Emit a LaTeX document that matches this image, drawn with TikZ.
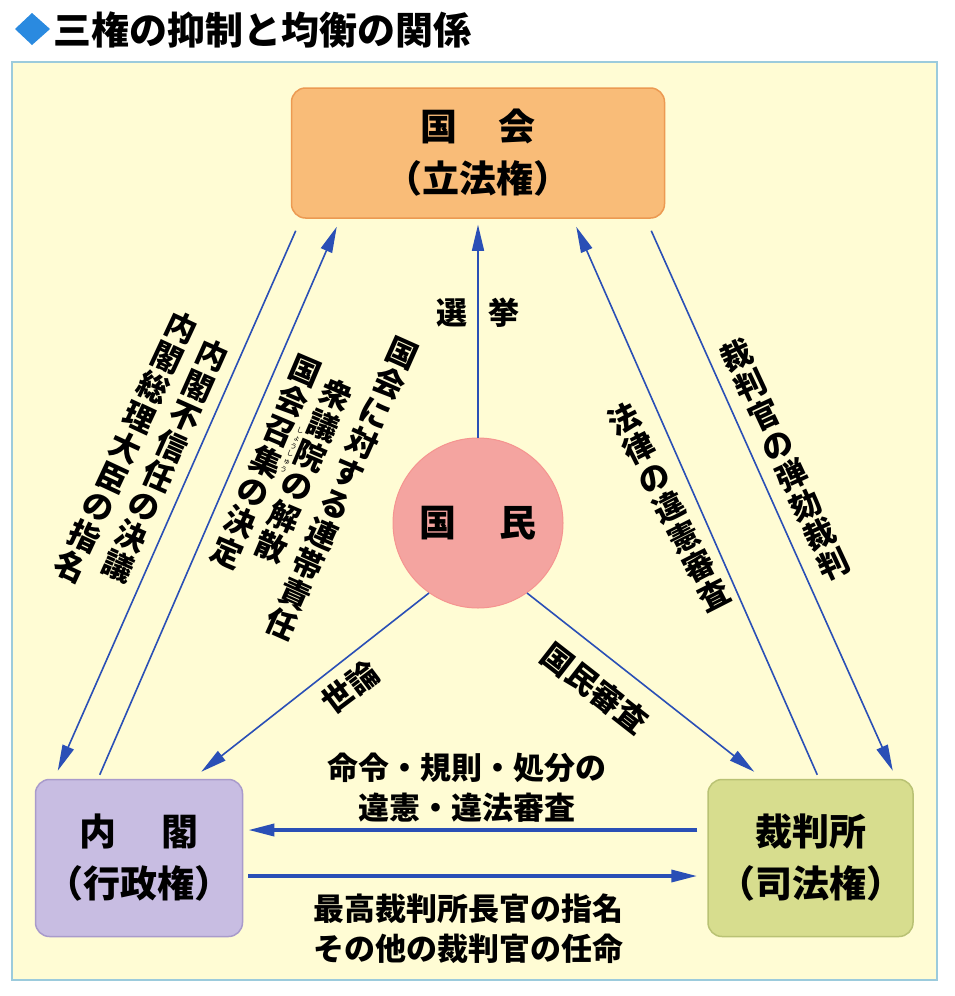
\documentclass[tikz,border=0pt]{standalone}
\usepackage{fontspec}
\setmainfont{Noto Sans CJK JP}
\usetikzlibrary{arrows.meta}

\definecolor{panelfill}{HTML}{FFFCD4}
\definecolor{paneldraw}{HTML}{9CCBDC}
\definecolor{kokkaifill}{HTML}{F9BC78}
\definecolor{kokkaidraw}{HTML}{EC9A52}
\definecolor{kokuminfill}{HTML}{F4A4A0}
\definecolor{naikakufill}{HTML}{C8BDE2}
\definecolor{naikakudraw}{HTML}{A99BCB}
\definecolor{saibanfill}{HTML}{D7DD8E}
\definecolor{saibandraw}{HTML}{B9C274}
\definecolor{arrblue}{HTML}{2A4FB6}
\definecolor{markblue}{HTML}{2A8AE0}

\begin{document}
\begin{tikzpicture}[x=1pt, y=-1pt,
    organ/.style={rounded corners=14pt, line width=1.5pt, align=center,
                  font=\bfseries\fontsize{37}{52}\selectfont},
    arr/.style={draw=arrblue, line width=1.6pt,
                -{Triangle[length=26pt,width=12pt]}},
    harr/.style={arr, line width=3.5pt},
    lbl/.style={align=center, inner sep=0pt,
                font=\bfseries\fontsize{31}{40}\selectfont},
    tate/.style={align=center, inner sep=0pt,
                 font=\bfseries\fontsize{31}{33}\selectfont}]

  \useasboundingbox (0,0) rectangle (954,996);
  \fill[white] (0,0) rectangle (954,996);

  \fill[markblue] (32,13) -- (50,29) -- (32,45) -- (15,29) -- cycle;
  \node[anchor=west, inner sep=0pt, font=\bfseries\fontsize{38}{38}\selectfont]
       (title) at (53,30) {三権の抑制と均衡の関係};

  \draw[paneldraw, fill=panelfill, line width=2.5pt] (12,62) rectangle (937,980);

  \node[organ, fill=kokkaifill, draw=kokkaidraw,
        minimum width=373pt, minimum height=130pt]
       (kokkai)    at (478,153)   {国\hspace{41pt}会\\（立法権）};
  \node[organ, fill=naikakufill, draw=naikakudraw,
        minimum width=207pt, minimum height=157pt]
       (naikaku)   at (139,858)   {内\hspace{45pt}閣\\（行政権）};
  \node[organ, fill=saibanfill, draw=saibandraw,
        minimum width=205pt, minimum height=157pt]
       (saibansho) at (810.5,858) {裁判所\\（司法権）};
  \node[circle, fill=kokuminfill, draw=kokuminfill!90!red, line width=1pt,
        minimum size=170pt, inner sep=0pt,
        font=\bfseries\fontsize{37}{52}\selectfont]
       (kokumin)   at (478,523)   {国\hspace{43pt}民};

  \draw[arr] ([shift={(5,12)}]kokkai.south west)
          -- ([shift={(23,-8)}]naikaku.north west);
  \draw[arr] ([shift={(65,-4)}]naikaku.north west)
          -- ([shift={(46,8)}]kokkai.south west);
  \draw[arr, shorten >=6pt] (kokumin.north)
          -- (kokkai.south);
  \draw[arr] ([shift={(110,-4)}]saibansho.north west)
          -- ([shift={(-89,8)}]kokkai.south east);
  \draw[arr] ([shift={(-14,12)}]kokkai.south east)
          -- ([shift={(-21,-8)}]saibansho.north east);
  \draw[arr] (kokumin.-125)
          -- ([shift={(-42,-7)}]naikaku.north east);
  \draw[arr] (kokumin.-55)
          -- ([shift={(47,-7)}]saibansho.north west);
  \draw[harr] ([shift={(-10,-28)}]saibansho.west)
           -- ([shift={(5,-28)}]naikaku.east);
  \draw[harr] ([shift={(5,18)}]naikaku.east)
           -- ([shift={(-10,18)}]saibansho.west);

  \node[lbl]             (senkyo) at (478,313) {選\hspace{22pt}挙};
  \node[lbl]             (meirei) at (467,788) {命令・規則・処分の\\違憲・違法審査};
  \node[lbl]             (ninmei) at (468,929) {最高裁判所長官の指名\\その他の裁判官の任命};
  \node[lbl, rotate=37]  (yoron)  at (350,687) {世論};
  \node[lbl, rotate=-38] (shinsa) at (595,688) {国民審査};

  \node[tate, rotate=-25] (sori)    at (126,447) {内\\閣\\総\\理\\大\\臣\\の\\指\\名};
  \node[tate, rotate=-24] (fushin)  at (165,461) {内\\閣\\不\\信\\任\\の\\決\\議};
  \node[tate, rotate=-23] (shoshu)  at (266,462) {国\\会\\召\\集\\の\\決\\定};
  \node[tate, rotate=-23, font=\fontsize{7}{8.5}\selectfont]
                          (furi)    at (292,450) {し\\ょ\\う\\し\\ゅ\\う};
  \node[tate, rotate=-23] (kaisan)  at (304,471) {衆\\議\\院\\の\\解\\散};
  \node[tate, rotate=-24] (rentai)  at (342,489) {国\\会\\に\\対\\す\\る\\連\\帯\\責\\任};
  \node[tate, rotate=27]  (iken)    at (669,507) {法\\律\\の\\違\\憲\\審\\査};
  \node[tate, rotate=25]  (dangai)  at (785,460) {裁\\判\\官\\の\\弾\\劾\\裁\\判};

\end{tikzpicture}
\end{document}
